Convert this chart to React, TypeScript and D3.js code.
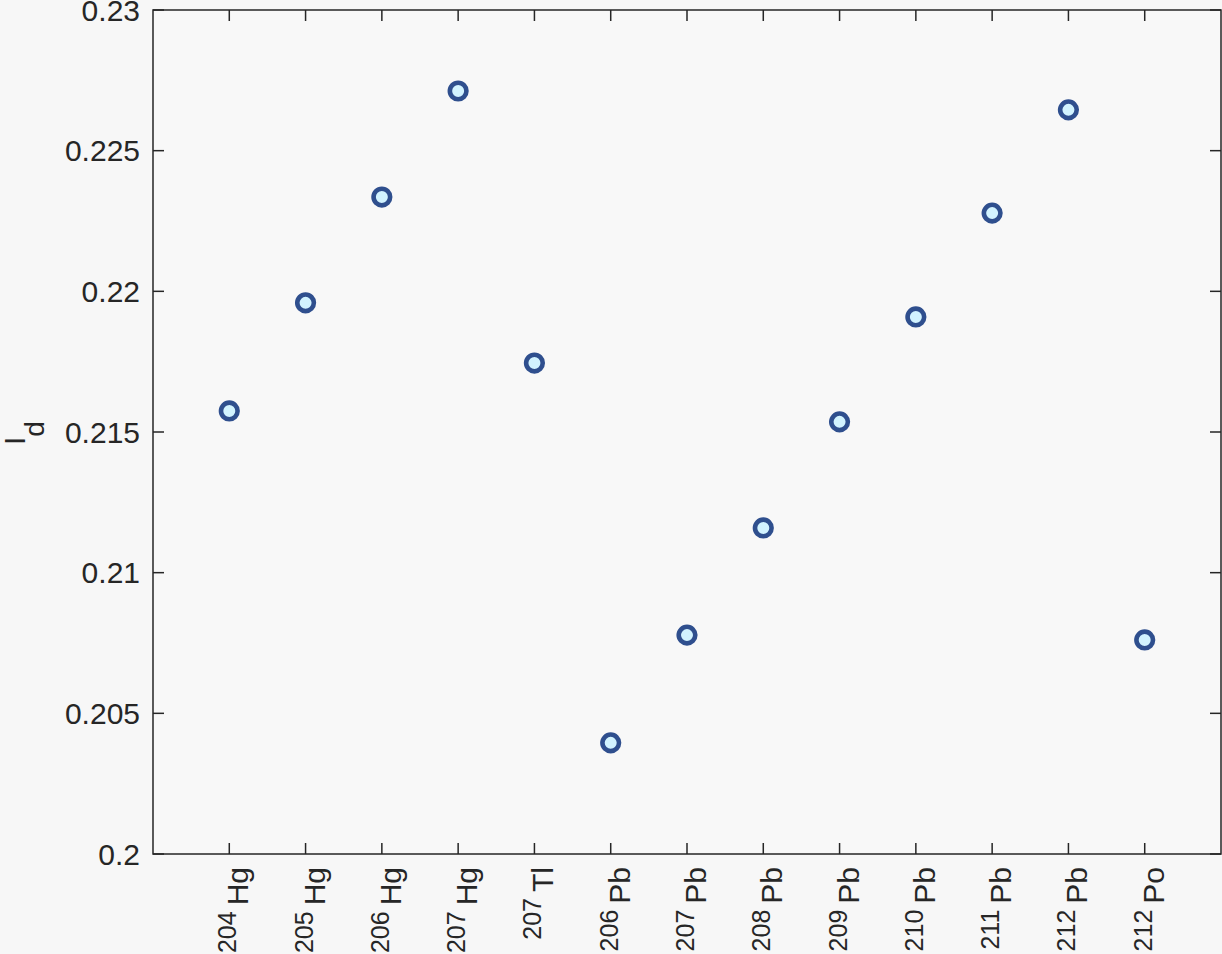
import React from "react";
import * as d3 from "d3";

const masses = ["204", "205", "206", "207", "207", "206", "207", "208", "209", "210", "211", "212", "212"];
const elements = ["Hg", "Hg", "Hg", "Hg", "Tl", "Pb", "Pb", "Pb", "Pb", "Pb", "Pb", "Pb", "Po"];
const idValues = [0.21575, 0.21959, 0.22335, 0.22712, 0.21745, 0.20395, 0.20778, 0.21159, 0.21536, 0.21909, 0.22278, 0.22645, 0.20761];
const yTicks = [0.2, 0.205, 0.21, 0.215, 0.22, 0.225, 0.23];
const yTickLabels = ["0.2", "0.205", "0.21", "0.215", "0.22", "0.225", "0.23"];

const W = 1222;
const H = 954;
const L = 153;
const R = 1221;
const T = 10;
const B = 854;
const FONT = "'Liberation Sans', Arial, Helvetica, sans-serif";
const INK = "#262626";

export default function App() {
  const x = d3.scaleLinear().domain([0, masses.length + 1]).range([L, R]);
  const y = d3.scaleLinear().domain([0.2, 0.23]).range([B, T]);
  const tickLen = 11;

  return (
    <svg
      width={W}
      height={H}
      style={{ position: "absolute", left: 0, top: 0, display: "block", background: "#f7f7f7" }}
      fontFamily={FONT}
    >
      <rect x={0} y={0} width={W} height={H} fill="#f7f7f7" />
      {/* box */}
      <rect x={L} y={T} width={R - L} height={B - T} fill="#f8f8f8" stroke={INK} strokeWidth={1.5} />
      {/* y ticks */}
      {yTicks.map((t, i) => (
        <g key={"yt" + i}>
          <line x1={L} x2={L + tickLen} y1={y(t)} y2={y(t)} stroke={INK} strokeWidth={1.5} />
          <line x1={R} x2={R - tickLen} y1={y(t)} y2={y(t)} stroke={INK} strokeWidth={1.5} />
          <text
            x={L - 13}
            y={y(t)}
            dy="0.36em"
            textAnchor="end"
            fontSize={30}
            fill={INK}
          >
            {yTickLabels[i]}
          </text>
        </g>
      ))}
      {/* x ticks and labels */}
      {masses.map((m, i) => {
        const cx = x(i + 1);
        return (
          <g key={"xt" + i}>
            <line x1={cx} x2={cx} y1={B} y2={B - tickLen} stroke={INK} strokeWidth={1.5} />
            <line x1={cx} x2={cx} y1={T} y2={T + tickLen} stroke={INK} strokeWidth={1.5} />
            <text
              transform={`translate(${cx + 19},${B + 13}) rotate(-90)`}
              textAnchor="end"
              fill={INK}
            >
              <tspan fontSize={25} dy={-12}>{m}</tspan>
              <tspan fontSize={30} dy={12} dx={6}>{elements[i]}</tspan>
            </text>
          </g>
        );
      })}
      {/* y label */}
      <text transform={`translate(25,445) rotate(-90)`} textAnchor="start" fill={INK}>
        <tspan fontSize={30}>I</tspan>
        <tspan fontSize={28} dy={19}>d</tspan>
      </text>
      {/* markers */}
      {idValues.map((v, i) => (
        <circle
          key={"m" + i}
          cx={x(i + 1)}
          cy={y(v)}
          r={8.3}
          fill="#d2f3ff"
          stroke="#2f4f8e"
          strokeWidth={4.6}
        />
      ))}
    </svg>
  );
}
